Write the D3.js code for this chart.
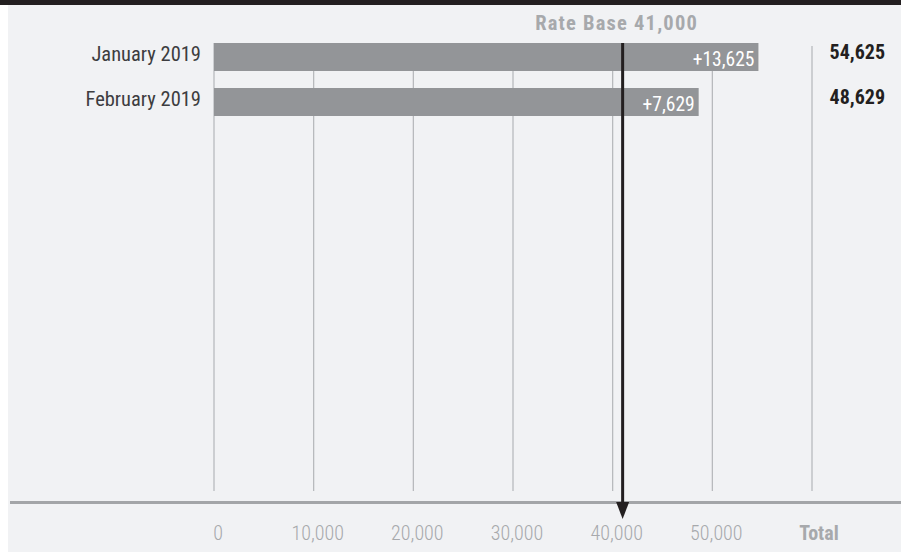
<!DOCTYPE html>
<html><head><meta charset="utf-8">
<script src="https://cdn.jsdelivr.net/npm/d3@7"></script>
<style>
html,body{margin:0;padding:0;background:#fff;}
svg{display:block;}
text{font-family:"Liberation Sans Narrow","Roboto Condensed","DejaVu Sans Condensed","Roboto",sans-serif;}
</style></head>
<body>
<svg id="c" width="901" height="552"></svg>
<script>
const categories = ["January 2019", "February 2019"];
const totals = [54625, 48629];
const increments = [13625, 7629];
const rateBase = 41000;
const tickValues = [0, 10000, 20000, 30000, 40000, 50000, 60000];
const tickLabels = ["0", "10,000", "20,000", "30,000", "40,000", "50,000", "Total"];

const svg = d3.select("#c");
svg.append("rect").attr("x", 8).attr("y", 0).attr("width", 893).attr("height", 552).attr("fill", "#f1f2f4");
svg.append("rect").attr("x", 0).attr("y", 0).attr("width", 901).attr("height", 5).attr("fill", "#231f20");

const x = d3.scaleLinear().domain([0, 60000]).range([214, 812]);
const y = d3.scaleBand().domain(categories).range([43, 116]).paddingInner(17/45).paddingOuter(0);
const fmt = d3.format(",");

// gridlines
svg.append("g").selectAll("line").data(tickValues).join("line")
  .attr("x1", d => x(d)).attr("x2", d => x(d))
  .attr("y1", d => d === 60000 ? 46 : 43).attr("y2", 491)
  .attr("stroke", "#b4b6b9").attr("stroke-width", 1.2);

// baseline
svg.append("line").attr("x1", 10).attr("x2", 901).attr("y1", 502.5).attr("y2", 502.5)
  .attr("stroke", "#a3a5a8").attr("stroke-width", 3);

// bars
const rows = categories.map((c, i) => ({c, total: totals[i], inc: increments[i]}));
svg.append("g").selectAll("rect").data(rows).join("rect")
  .attr("x", x(0)).attr("y", d => y(d.c))
  .attr("width", d => x(d.total) - x(0)).attr("height", y.bandwidth())
  .attr("fill", "#939598");

// category labels
svg.append("g").selectAll("text").data(rows).join("text")
  .attr("x", 201).attr("y", d => y(d.c) + 17.5)
  .attr("text-anchor", "end").attr("font-size", 20.5).attr("fill", "#3d3d3f")
  .text(d => d.c);

// increment labels
svg.append("g").selectAll("text").data(rows).join("text")
  .attr("x", d => x(d.total) - 4).attr("y", d => y(d.c) + 22.5)
  .attr("text-anchor", "end").attr("font-size", 19.5).attr("fill", "#ffffff")
  .text(d => "+" + fmt(d.inc));

// totals
svg.append("g").selectAll("text").data(rows).join("text")
  .attr("x", 885).attr("y", d => y(d.c) + 16)
  .attr("text-anchor", "end").attr("font-size", 20).attr("font-weight", "bold").attr("fill", "#231f20")
  .text(d => fmt(d.total));

// tick labels
svg.append("g").selectAll("text").data(tickValues).join("text")
  .attr("x", d => x(d) + (d === 60000 ? 7 : 4)).attr("y", 540)
  .attr("text-anchor", "middle").attr("font-size", 20)
  .attr("font-weight", d => d === 60000 ? "bold" : 300)
  .attr("fill", "#a7a9ac")
  .text((d, i) => tickLabels[i]);

// rate base arrow
const rx = x(rateBase);
svg.append("line").attr("x1", rx).attr("x2", rx).attr("y1", 43).attr("y2", 506)
  .attr("stroke", "#231f20").attr("stroke-width", 3);
svg.append("path").attr("d", `M${rx-6.5},502 L${rx+6.5},502 L${rx},519 Z`).attr("fill", "#231f20");
svg.append("text").attr("x", rx - 6).attr("y", 30).attr("text-anchor", "middle")
  .attr("font-size", 20.5).attr("font-weight", "bold").attr("letter-spacing", 1.2).attr("fill", "#a7a9ac")
  .text("Rate Base " + fmt(rateBase));
</script>
</body></html>
